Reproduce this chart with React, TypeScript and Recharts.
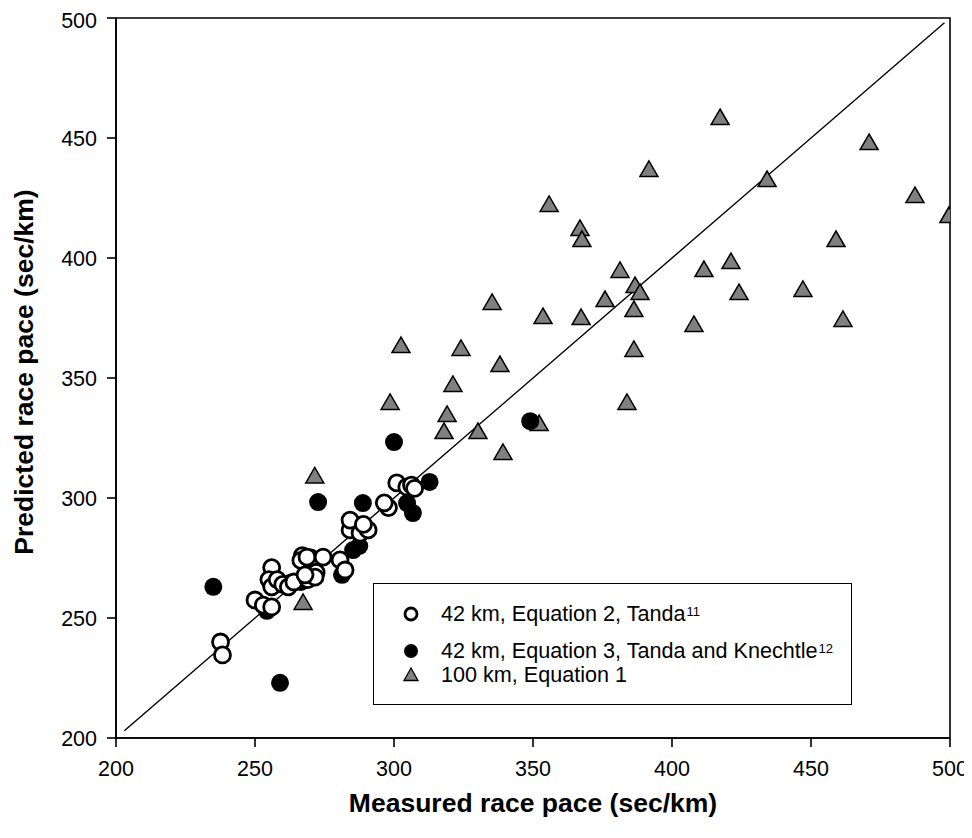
import React from 'react';
import { ScatterChart, Scatter, XAxis, YAxis, ReferenceLine, ReferenceArea } from 'recharts';

// 42 km, Equation 2, Tanda (open circles) [measured, predicted]
const tandaEq2: [number, number][] = [
  [237.6, 240], [238.3, 234.6], [250, 257.5], [253, 255.4], [256, 254.6], [256, 271],
  [255, 266], [256, 263], [258, 266], [260, 264], [262, 263], [264, 265], [267, 276],
  [266.5, 274], [270, 275], [269, 266], [268.7, 275.4], [272, 269], [271.6, 267],
  [268, 268], [274.5, 275.4], [280.6, 274.2], [282.4, 270], [284.2, 286.7], [284.2, 290.8],
  [287.8, 285.4], [290.7, 286.7], [289, 289], [298, 296], [296.5, 298], [301, 306.3],
  [304.6, 304.6], [306.3, 305.4], [307.4, 304],
];

// 42 km, Equation 3, Tanda and Knechtle (filled circles)
const tandaKnechtleEq3: [number, number][] = [
  [235, 263], [259, 223], [254.3, 253], [262.6, 264.6], [266.5, 265], [272.7, 298.3],
  [281.3, 268], [285.3, 278.3], [287.5, 280], [288.8, 297.9], [300, 323.3], [304.7, 297.9],
  [306.8, 293.7], [312.8, 306.7], [349, 332],
];

// 100 km, Equation 1 (triangles)
const km100Eq1: [number, number][] = [
  [271.5, 309], [267.3, 256.3], [298.6, 339.6], [302.5, 363.3], [318, 327.5], [319.1, 334.6],
  [321.2, 347.1], [324.1, 362.1], [330.2, 327.5], [335.3, 381.3], [338.1, 355.4], [339.2, 318.8],
  [352.2, 330.8], [353.6, 375.4], [355.8, 422.1], [367.3, 375], [366.9, 412.1], [367.6, 407.5],
  [375.9, 382.5], [381.3, 394.6], [383.8, 339.6], [386.3, 378.3], [386.7, 388.3], [386.3, 361.7],
  [388.5, 385.4], [391.7, 436.7], [407.9, 372.1], [411.5, 395], [417.3, 458.3], [421.2, 398.3],
  [424.1, 385.4], [434.2, 432.5], [447.1, 386.7], [459, 407.5], [461.5, 374.2], [470.9, 447.9],
  [487.4, 425.8], [499.6, 417.5],
];

const ticks = [200, 250, 300, 350, 400, 450, 500];
const identityLine = [203, 498];
const xTitle = 'Measured race pace (sec/km)';
const yTitle = 'Predicted race pace (sec/km)';

const toPoints = (arr: [number, number][]) => arr.map(([x, y]) => ({ x, y }));

const FONT = '"Liberation Sans", Arial, sans-serif';

const OpenCircle = (p: any) => (
  <circle cx={p.cx} cy={p.cy} r={8} fill="#fff" stroke="#000" strokeWidth={2.8} />
);
const FilledCircle = (p: any) => <circle cx={p.cx} cy={p.cy} r={9} fill="#000" />;
const Triangle = (p: any) => {
  const { cx, cy } = p;
  return (
    <polygon
      points={`${cx},${cy - 9} ${cx - 9},${cy + 6.5} ${cx + 9},${cy + 6.5}`}
      fill="#808080"
      stroke="#000"
      strokeWidth={1.5}
    />
  );
};

const axisStroke = { stroke: '#000', strokeWidth: 1.6 };
const titleStyle = { fontSize: 26.5, fontWeight: 700, fill: '#000', fontFamily: FONT } as const;

const XTitle = (props: any) => {
  const vb = props.viewBox || {};
  const cx = vb.x + vb.width / 2;
  return (
    <text x={cx} y={vb.y + 74} textAnchor="middle" style={titleStyle}>
      {xTitle}
    </text>
  );
};

const YTitle = (props: any) => {
  const vb = props.viewBox || {};
  const cx = vb.x + 16;
  const cy = vb.y + vb.height / 2 - 6;
  return (
    <text
      x={cx}
      y={cy}
      transform={`rotate(-90 ${cx} ${cy})`}
      textAnchor="middle"
      dominantBaseline="central"
      style={titleStyle}
    >
      {yTitle}
    </text>
  );
};

const legendRow = (top: number, marker: React.ReactNode, text: React.ReactNode) => (
  <div
    style={{
      position: 'absolute',
      left: 0,
      top: top - 14,
      height: 28,
      display: 'flex',
      alignItems: 'center',
      whiteSpace: 'nowrap',
    }}
  >
    <svg width={74} height={28} style={{ display: 'block' }}>
      {marker}
    </svg>
    <span style={{ fontSize: 21.6, color: '#000', marginLeft: -7, lineHeight: '28px' }}>{text}</span>
  </div>
);

const supStyle = { fontSize: 13, verticalAlign: 'top', position: 'relative', top: -2, marginLeft: 1 } as const;

export default function App() {
  return (
    <div style={{ position: 'relative', width: 964, height: 830, fontFamily: FONT }}>
      <ScatterChart width={964} height={830} margin={{ top: 10, right: 22, bottom: 20, left: 0 }}>
        <XAxis
          type="number"
          dataKey="x"
          domain={[200, 500]}
          ticks={ticks}
          allowDataOverflow
          tickSize={9}
          tickMargin={14}
          height={80}
          tick={{ fontSize: 21.5, fill: '#000', fontFamily: FONT }}
          axisLine={axisStroke}
          tickLine={axisStroke}
          label={{ content: XTitle }}
        />
        <YAxis
          type="number"
          dataKey="y"
          domain={[200, 500]}
          ticks={ticks}
          allowDataOverflow
          tickSize={9}
          tickMargin={10}
          width={108}
          tick={{ fontSize: 21.5, fill: '#000', fontFamily: FONT }}
          axisLine={axisStroke}
          tickLine={axisStroke}
          label={{ content: YTitle }}
        />
        <ReferenceArea x1={200} x2={500} y1={200} y2={500} fill="none" stroke="#000" strokeWidth={1.6} fillOpacity={0} />
        <ReferenceLine
          segment={[
            { x: identityLine[0], y: identityLine[0] },
            { x: identityLine[1], y: identityLine[1] },
          ]}
          stroke="#000"
          strokeWidth={1.4}
        />
        <Scatter data={toPoints(km100Eq1)} shape={Triangle} isAnimationActive={false} />
        <Scatter data={toPoints(tandaKnechtleEq3)} shape={FilledCircle} isAnimationActive={false} />
        <Scatter data={toPoints(tandaEq2)} shape={OpenCircle} isAnimationActive={false} />
      </ScatterChart>
      <div
        style={{
          position: 'absolute',
          left: 365,
          top: 575,
          width: 479,
          height: 122,
          border: '1.5px solid #000',
          background: '#fff',
          boxSizing: 'border-box',
        }}
      >
        {legendRow(
          30,
          <circle cx={37} cy={14} r={6} fill="#fff" stroke="#000" strokeWidth={2.8} />,
          <>42 km, Equation 2, Tanda<span style={supStyle}>11</span></>
        )}
        {legendRow(
          67,
          <circle cx={37} cy={14} r={7} fill="#000" />,
          <>42 km, Equation 3, Tanda and Knechtle<span style={supStyle}>12</span></>
        )}
        {legendRow(
          91,
          <polygon points="37,7 30,19.5 44,19.5" fill="#808080" stroke="#000" strokeWidth={1.3} />,
          <>100 km, Equation 1</>
        )}
      </div>
    </div>
  );
}
